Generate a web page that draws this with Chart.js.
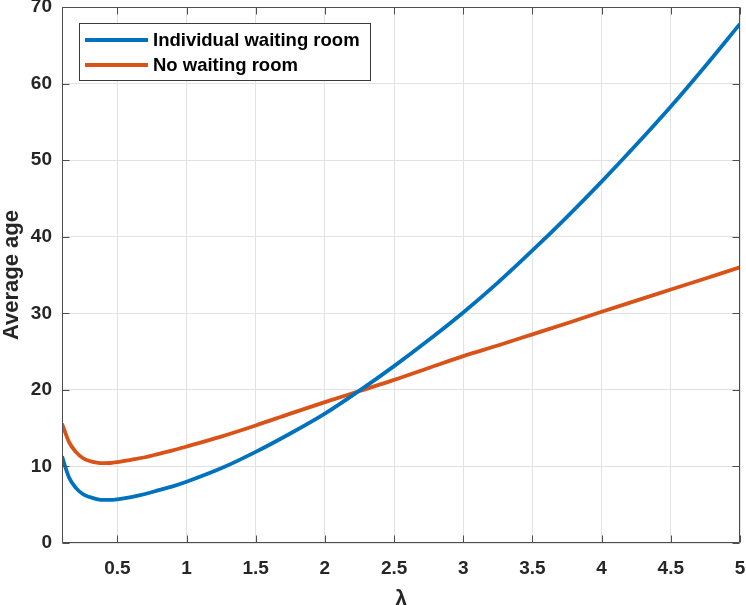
<!DOCTYPE html>
<html><head><meta charset="utf-8">
<script src="https://cdn.jsdelivr.net/npm/chart.js@4/dist/chart.umd.min.js"></script>
<style>html,body{margin:0;padding:0;background:#fff}</style>
</head><body>
<canvas id="c" width="746" height="605"></canvas>
<script>
const lambdaValues = [0.1,0.15,0.2,0.25,0.3,0.35,0.4,0.45,0.5,0.6,0.7,0.8,0.9,1,1.25,1.5,1.75,2,2.25,2.5,2.75,3,3.25,3.5,3.75,4,4.25,4.5,4.75,5];
const individualWaitingRoom = [11.3,8.6,7.2,6.4,6.0,5.74,5.62,5.62,5.7,6.0,6.4,6.9,7.4,8.0,9.75,11.9,14.3,16.9,19.9,23.1,26.5,30.1,34.0,38.2,42.6,47.2,52.0,57.0,62.3,67.8];
const noWaitingRoom = [15.6,13.2,11.9,11.1,10.7,10.5,10.43,10.45,10.56,10.87,11.2,11.65,12.1,12.6,13.9,15.35,16.9,18.4,19.85,21.3,22.85,24.4,25.8,27.25,28.7,30.2,31.65,33.1,34.55,36.0];
const seriesLabels = ['Individual waiting room','No waiting room'];
const xTickValues = [0.5,1,1.5,2,2.5,3,3.5,4,4.5,5];
const yTickValues = [0,10,20,30,40,50,60,70];

const FONT = '"Liberation Sans", Arial, Helvetica, sans-serif';
const TXT = '#262626';
const AXC = '#4d4d4d';

const frameLegend = {
  id: 'frameLegend',
  afterDraw(chart) {
    const ctx = chart.ctx, a = chart.chartArea;
    const xs = chart.scales.x, ys = chart.scales.y;
    ctx.save();
    ctx.strokeStyle = AXC; ctx.lineWidth = 1;
    const L = Math.round(a.left)+0.5, R = Math.round(a.right)-0.5, T = Math.round(a.top)+0.5, B = Math.round(a.bottom)-0.5;
    ctx.beginPath();
    ctx.rect(L, T, R-L, B-T);
    ctx.stroke();
    const tl = 7;
    ctx.beginPath();
    xTickValues.forEach(v => {
      const px = Math.round(xs.getPixelForValue(v))+0.5;
      ctx.moveTo(px, B); ctx.lineTo(px, B-tl);
      ctx.moveTo(px, T); ctx.lineTo(px, T+tl);
    });
    yTickValues.forEach(v => {
      const py = Math.round(ys.getPixelForValue(v))+0.5;
      ctx.moveTo(L, py); ctx.lineTo(L+tl, py);
      ctx.moveTo(R, py); ctx.lineTo(R-tl, py);
    });
    ctx.stroke();
    // legend
    const bx = 79.5, by = 23.5, bw = 291, bh = 57;
    ctx.fillStyle = '#fff';
    ctx.fillRect(bx, by, bw, bh);
    ctx.strokeStyle = '#3a3a3a';
    ctx.strokeRect(bx, by, bw, bh);
    chart.data.datasets.forEach((ds, i) => {
      const y = 40 + i*25;
      ctx.strokeStyle = ds.borderColor; ctx.lineWidth = 3.8;
      ctx.beginPath(); ctx.moveTo(85, y); ctx.lineTo(148, y); ctx.stroke();
      ctx.fillStyle = '#000';
      ctx.font = 'bold 18.5px ' + FONT;
      ctx.textBaseline = 'middle'; ctx.textAlign = 'left';
      ctx.fillText(ds.label, 153, y+1);
    });
    ctx.restore();
  }
};

new Chart(document.getElementById('c'), {
  type: 'line',
  data: {
    datasets: [
      { label: seriesLabels[0], data: lambdaValues.map((x,i)=>({x, y: individualWaitingRoom[i]})), borderColor: '#0072BD', borderWidth: 3.8, pointRadius: 0, cubicInterpolationMode: 'monotone', fill: false },
      { label: seriesLabels[1], data: lambdaValues.map((x,i)=>({x, y: noWaitingRoom[i]})), borderColor: '#D95319', borderWidth: 3.8, pointRadius: 0, cubicInterpolationMode: 'monotone', fill: false }
    ]
  },
  options: {
    responsive: false, animation: false, devicePixelRatio: 1,
    layout: { padding: { top: 7, right: 6, left: 0, bottom: 0 } },
    plugins: { legend: { display: false }, tooltip: { enabled: false } },
    scales: {
      x: {
        type: 'linear', min: 0.1, max: 5,
        afterBuildTicks: s => { s.ticks = xTickValues.map(v => ({ value: v })); },
        afterFit: s => { s.height = 62; s.paddingLeft = 0; s.paddingRight = 0; },
        grid: { color: '#e2e2e2', lineWidth: 1, drawTicks: false },
        border: { display: false },
        ticks: { color: TXT, font: { family: FONT, size: 19, weight: 'bold' }, padding: 14, maxRotation: 0, autoSkip: false, callback: v => String(v) },
        title: { display: true, text: 'λ', color: TXT, font: { family: FONT, size: 22, weight: 'bold', lineHeight: 0.5 }, padding: 0 }
      },
      y: {
        type: 'linear', min: 0, max: 70,
        afterBuildTicks: s => { s.ticks = yTickValues.map(v => ({ value: v })); },
        afterFit: s => { s.width = 62; s.paddingTop = 0; s.paddingBottom = 0; },
        grid: { color: '#e2e2e2', lineWidth: 1, drawTicks: false },
        border: { display: false },
        ticks: { color: TXT, font: { family: FONT, size: 19, weight: 'bold' }, padding: 10, callback: v => String(v) },
        title: { display: true, text: 'Average age', color: TXT, font: { family: FONT, size: 22, weight: 'bold', lineHeight: 1.1 }, padding: 0 }
      }
    }
  },
  plugins: [frameLegend]
});
</script>
</body></html>
